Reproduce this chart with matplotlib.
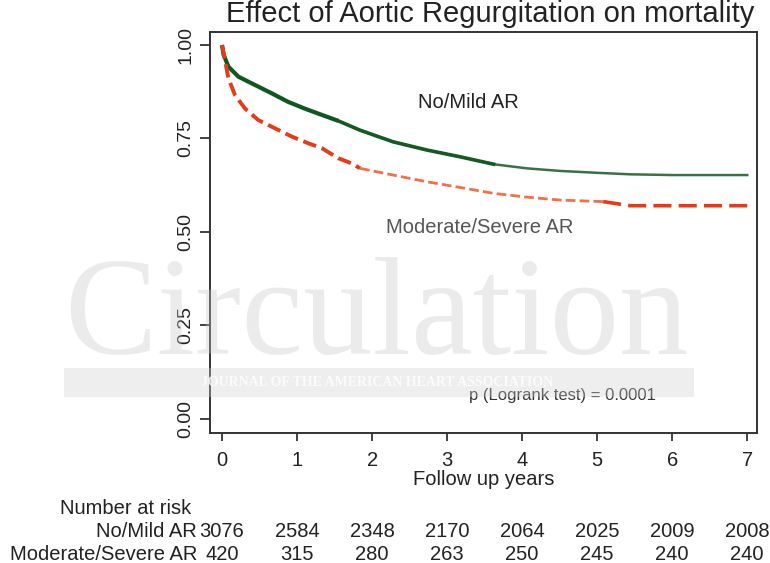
import matplotlib
matplotlib.use("Agg")
import matplotlib.pyplot as plt
import matplotlib.transforms as mtransforms
from matplotlib.patches import Rectangle

# Kaplan-Meier curves
green_t = [0, 0.02, 0.085, 0.22, 0.44, 0.66, 0.88, 1.1, 1.33, 1.55, 1.84, 2.28,
           2.73, 3.17, 3.62, 4.06, 4.51, 5.0, 5.44, 6.0, 7.0]
green_s = [1.0, 0.975, 0.942, 0.915, 0.893, 0.871, 0.848, 0.830, 0.813, 0.797,
           0.772, 0.741, 0.719, 0.701, 0.681, 0.670, 0.663, 0.658, 0.654, 0.652, 0.652]

red_t = [0, 0.02, 0.085, 0.173, 0.307, 0.484, 0.707, 0.929, 1.15, 1.33, 1.55, 1.73,
         1.84, 2.28, 2.73, 3.17, 3.62, 4.06, 4.51, 5.08, 5.44, 7.0]
red_s = [1.0, 0.98, 0.911, 0.866, 0.830, 0.799, 0.777, 0.755, 0.737, 0.724, 0.697,
         0.683, 0.670, 0.652, 0.634, 0.619, 0.603, 0.593, 0.585, 0.581, 0.570, 0.570]

# number at risk table
risk_years = [0, 1, 2, 3, 4, 5, 6, 7]
risk_mild = [3076, 2584, 2348, 2170, 2064, 2025, 2009, 2008]
risk_severe = [420, 315, 280, 263, 250, 245, 240, 240]
group_names = ["No/Mild AR", "Moderate/Severe AR"]

plt.rcParams["font.family"] = ["Liberation Sans", "DejaVu Sans"]
W, H = 770, 563
fig = plt.figure(figsize=(7.7, 5.63), dpi=100)
ax = fig.add_axes([210 / W, 1 - 432.7 / H, 547 / W, 401 / H])

# green: thick at the start, thinner later
g_split = 9
ax.plot(green_t[g_split:], green_s[g_split:], color="#3a7044", lw=1.8, zorder=3)
ax.plot(green_t[: g_split + 1], green_s[: g_split + 1], color="#0f561f", lw=3.0,
        zorder=3, solid_capstyle="butt")
ax.plot(green_t[g_split:15], green_s[g_split:15], color="#145a22", lw=2.6, zorder=3)

# red dashed
dash = (0, (3.5, 1.5))
ax.plot(red_t[:13], red_s[:13], color="#e23c18", lw=2.8, ls=dash, zorder=3)
ax.plot(red_t[12:-2], red_s[12:-2], color="#f07048", lw=2.0, ls=dash, zorder=3)
ax.plot(red_t[-3:], red_s[-3:], color="#e83a14", lw=2.6, ls=(0, (5, 2)), zorder=3)

ax.set_xlim(-0.16, 7.13)
ax.set_ylim(-0.0374, 1.0356)
ax.set_xticks(risk_years)
ax.set_yticks([0, 0.25, 0.5, 0.75, 1.0])
ax.set_yticklabels(["0.00", "0.25", "0.50", "0.75", "1.00"], rotation=90, va="center")
ax.tick_params(axis="x", length=6, width=1.2, pad=7, labelsize=14.5, colors="#222222")
ax.tick_params(axis="y", length=7, width=1.2, pad=4, labelsize=14, colors="#222222")
for sp in ax.spines.values():
    sp.set_linewidth(1.4)
    sp.set_color("#333333")

ax.text(3.29, 0.845, group_names[0], fontsize=14.5, color="#222222", ha="center", va="center")
ax.text(3.43, 0.513, group_names[1], fontsize=14.5, color="#555555", ha="center", va="center")
ax.text(4.54, 0.061, "p (Logrank test) = 0.0001", fontsize=12, color="#333333",
        ha="center", va="center")

fig.text(490 / W, 1 - 21.5 / H, "Effect of Aortic Regurgitation on mortality",
         fontsize=21, ha="center", va="baseline", color="#222222")
fig.text(483.5 / W, 1 - 479.4 / H, "Follow up years", fontsize=14.5, ha="center",
         va="center", color="#222222")

# number at risk
fig.text(60 / W, 1 - 508 / H, "Number at risk", fontsize=14.5, ha="left", va="center",
         color="#222222")
trans = mtransforms.blended_transform_factory(ax.transData, fig.transFigure)
for row_y, name, counts in [(531.4, group_names[0], risk_mild), (554.8, group_names[1], risk_severe)]:
    fig.text(197 / W, 1 - row_y / H, name, fontsize=14.5, ha="right", va="center",
             color="#222222")
    for yr, n in zip(risk_years, counts):
        ax.text(yr, 1 - row_y / H, str(n), transform=trans, fontsize=14.5,
                ha="center", va="center", color="#222222", clip_on=False)

# faint journal watermark
fig.text(64 / W, 1 - 354 / H, "Circulation", fontsize=100, family="Liberation Serif",
         color="#c8c8c8", alpha=0.35, ha="left", va="baseline", zorder=5)
fig.patches.append(Rectangle((64 / W, 1 - 397 / H), 630 / W, 29 / H,
                             transform=fig.transFigure, facecolor="#d0d0d0",
                             alpha=0.35, edgecolor="none", zorder=5))
fig.text(377 / W, 1 - 382 / H, "JOURNAL OF THE AMERICAN HEART ASSOCIATION",
         fontsize=10, family="Liberation Serif", weight="bold", color="white",
         alpha=0.8, ha="center", va="center", zorder=6)

fig.savefig("out.png", dpi=100)
